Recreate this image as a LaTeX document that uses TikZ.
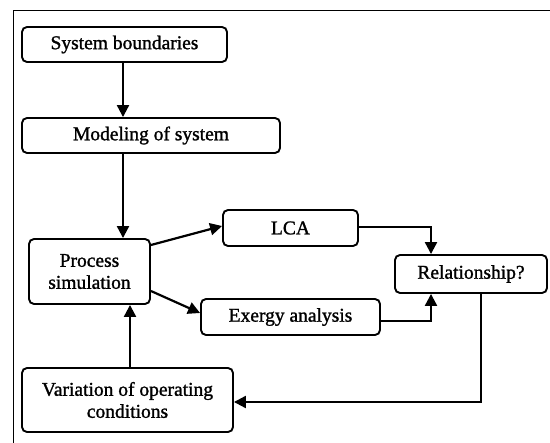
\documentclass[tikz,border=0pt]{standalone}
\usepackage{fontspec}
\setmainfont{Liberation Serif}
\newfontfamily\heavyfont[FakeBold=1.3]{Liberation Serif}
\usetikzlibrary{arrows.meta}
\begin{document}
\begin{tikzpicture}[x=1bp,y=-1bp,
  box/.style={draw,line width=1.9bp,rounded corners=5bp,inner sep=0pt,align=center,
    font=\heavyfont\fontsize{19.5bp}{22bp}\selectfont},
  arr/.style={line width=2.2bp,-{Triangle[length=12bp,width=12bp]}}]
\useasboundingbox (0,0) rectangle (550,443);
\draw[line width=1.4bp] (13.5,443) -- (13.5,10.5) -- (550,10.5);
\node[box,minimum width=205bp,minimum height=35bp] (sb) at (124.5,44.5) {System boundaries};
\node[box,minimum width=258bp,minimum height=35bp] (mos) at (151,135.5) {Modeling of system};
\node[box,minimum width=121bp,minimum height=65bp] (ps) at (89.5,271.5) {Process\\simulation};
\node[box,minimum width=135bp,minimum height=36bp] (lca) at (290.5,228) {LCA};
\node[box,minimum width=152bp,minimum height=38bp] (rel) at (471,274) {Relationship?};
\node[box,minimum width=179bp,minimum height=36bp] (exa) at (290.5,317) {Exergy analysis};
\node[box,minimum width=211bp,minimum height=64bp] (var) at (127.5,400) {Variation of operating\\conditions};
\coordinate (xa) at (123,0);
\coordinate (xb) at (130,0);
\draw[arr] (sb.south -| xa) -- (mos.north -| xa);
\draw[arr] (mos.south -| xa) -- (ps.north -| xa);
\draw[arr] ([yshift=26.5bp]ps.east) -- ([yshift=2bp]lca.west);
\draw[arr] ([yshift=-19.5bp]ps.east) -- ([yshift=4bp]exa.west);
\draw[arr] ([yshift=1bp]lca.east) -| ([xshift=-40bp]rel.north);
\draw[arr] ([yshift=-4bp]exa.east) -| ([xshift=-40bp]rel.south);
\draw[arr] ([xshift=10bp]rel.south) |- ([yshift=-2bp]var.east);
\draw[arr] (var.north -| xb) -- (ps.south -| xb);
\end{tikzpicture}
\end{document}
